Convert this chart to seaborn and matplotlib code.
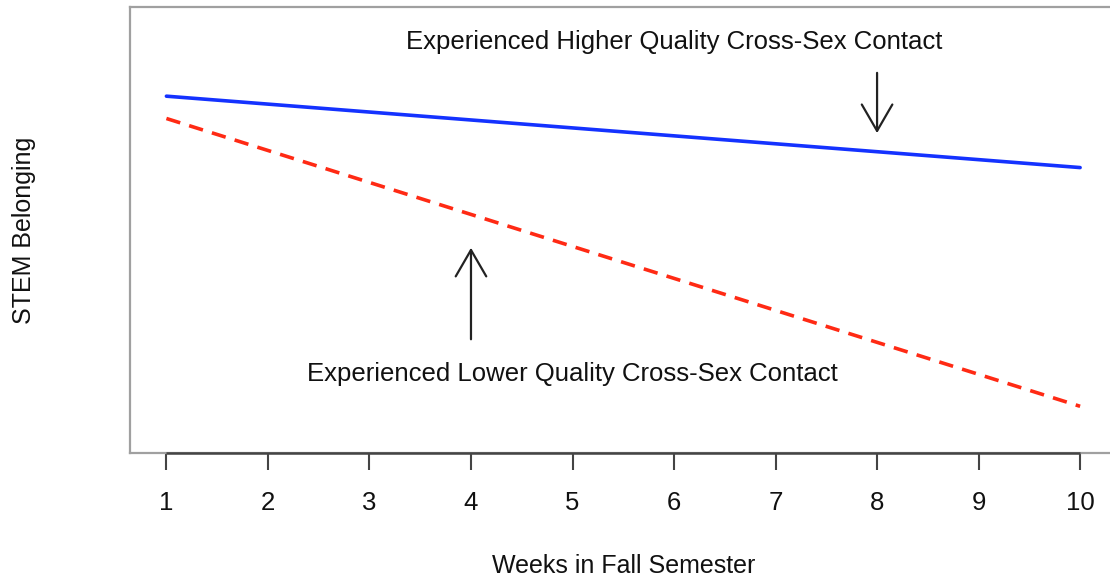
import matplotlib
matplotlib.use("Agg")
import matplotlib.pyplot as plt
import pandas as pd
import seaborn as sns

# endpoints of the two fitted lines (arbitrary belonging units)
weeks = [1, 10]
higher_quality = [5.10, 4.78]
lower_quality = [5.00, 3.71]
week_ticks = [1, 2, 3, 4, 5, 6, 7, 8, 9, 10]

label_high = "Experienced Higher Quality Cross-Sex Contact"
label_low = "Experienced Lower Quality Cross-Sex Contact"

sns.set_style("white")
plt.rcParams["font.family"] = ["Liberation Sans", "DejaVu Sans"]

df = pd.DataFrame({
    "week": weeks * 2,
    "belonging": higher_quality + lower_quality,
    "group": ["high"] * 2 + ["low"] * 2,
})

fig = plt.figure(figsize=(11.1, 5.78), dpi=100)
ax = fig.add_axes([0.117, 0.216, 0.889, 0.772])

sns.lineplot(data=df[df.group == "high"], x="week", y="belonging",
             color="#1432ff", linewidth=2.6, ax=ax)
sns.lineplot(data=df[df.group == "low"], x="week", y="belonging",
             color="#ff2a14", linewidth=2.6, ax=ax, dashes=False)
ax.lines[-1].set_dashes((4, 2.6))

ax.set_xlim(0.64, 10.36)
ax.set_ylim(3.5, 5.5)

# R-style box: grey frame, dark axis line only across tick range
for s in ["left", "top", "bottom"]:
    ax.spines[s].set_color("#a0a0a0")
    ax.spines[s].set_linewidth(1.6)
ax.spines["right"].set_visible(False)
ax.plot([week_ticks[0], week_ticks[-1]], [3.5, 3.5], color="#444444",
        linewidth=1.8, clip_on=False, solid_capstyle="butt", zorder=5)

ax.set_xticks(week_ticks)
ax.set_xticklabels([str(w) for w in week_ticks])
ax.tick_params(axis="x", bottom=True, length=12, width=1.5, color="#444444",
               labelsize=18.5, pad=15, labelcolor="#111111")
ax.set_yticks([])

ax.set_xlabel("Weeks in Fall Semester", fontsize=18, color="#111111")
ax.xaxis.set_label_coords(0.5, -0.225)
ax.set_ylabel("STEM Belonging", fontsize=18, color="#111111")
ax.yaxis.set_label_coords(-0.095, 0.5)

# annotations
ax.text(6.0, 5.345, label_high, ha="center", va="center", fontsize=18.5, color="#111111")
ax.text(5.0, 3.855, label_low, ha="center", va="center", fontsize=18.5, color="#111111")
arrow = dict(arrowstyle="->,head_length=1.9,head_width=1.1", color="#222222", lw=1.6)
ax.annotate("", xy=(8, 4.922), xytext=(8, 5.217), arrowprops=arrow)
ax.annotate("", xy=(4, 4.433), xytext=(4, 3.998), arrowprops=arrow)

fig.savefig("out.png", dpi=100)
